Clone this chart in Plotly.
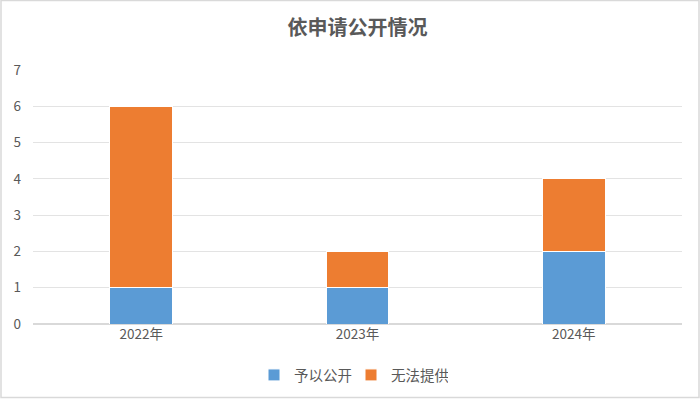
import plotly.graph_objects as go

categories = ["2022年", "2023年", "2024年"]
series_names = ["予以公开", "无法提供"]
disclosed = [1, 1, 2]
unavailable = [5, 1, 2]
colors = ["#5B9BD5", "#ED7D31"]
y_ticks = [0, 1, 2, 3, 4, 5, 6, 7]

W, H = 700, 399
ml, mr, mt, mb = 33, 18, 70, 75
pw, ph = W - ml - mr, H - mt - mb

fig = go.Figure()
for name, vals, c in zip(series_names, [disclosed, unavailable], colors):
    fig.add_trace(go.Bar(
        x=categories, y=vals, name=name,
        marker=dict(color=c, line=dict(color="white", width=1)),
        width=0.29,
    ))

fig.update_layout(
    width=W, height=H,
    barmode="stack",
    margin=dict(l=ml, r=mr, t=mt, b=mb, autoexpand=False),
    paper_bgcolor="white", plot_bgcolor="white",
    font=dict(family="Noto Sans CJK SC", color="#595959", size=13),
    title=dict(text="<b>依申请公开情况</b>", x=0.5, xanchor="center",
               xref="paper",
               y=1 - 28 / H, yanchor="middle",
               font=dict(size=20, color="#595959", family="Noto Sans CJK SC")),
    xaxis=dict(showgrid=False, showline=False, ticks="", tickfont=dict(size=13.5),
               automargin=False),
    yaxis=dict(range=[0, 7], tickvals=y_ticks, showgrid=True, gridcolor="#E3E3E3",
               gridwidth=1, zeroline=True, zerolinecolor="#D9D9D9", showline=False,
               ticks="", tickfont=dict(size=13.5), ticklabelstandoff=11,
               automargin=False),
    legend=dict(orientation="h", x=0.49, xanchor="center", y=-(375 - 324) / ph,
                yanchor="middle", font=dict(size=14.5), itemwidth=30,
                entrywidth=52, entrywidthmode="pixels",
                tracegroupgap=0, traceorder="normal"),
    showlegend=True,
)

fig.add_shape(type="rect", xref="paper", yref="paper",
              x0=-(ml - 1) / pw, x1=1 + (mr - 1) / pw,
              y0=-(mb - 1.5) / ph, y1=1 + (mt - 0.5) / ph,
              line=dict(color="#D9D9D9", width=1.5), fillcolor="rgba(0,0,0,0)",
              layer="below")

fig.write_html("out.html", config={"displayModeBar": False},
               post_script="document.body.style.margin='0';document.body.style.padding='0';")
